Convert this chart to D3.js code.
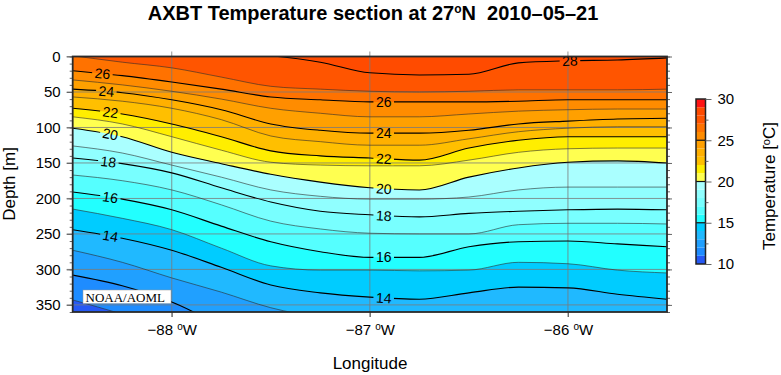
<!DOCTYPE html>
<html>
<head>
<meta charset="utf-8">
<script src="https://cdn.jsdelivr.net/npm/d3@7"></script>
<style>
  body { margin: 0; background: #fff; }
  svg { display: block; font-family: "Liberation Sans", Arial, Helvetica, sans-serif; }
</style>
</head>
<body>
<div id="chart"></div>
<script>
// Size and plot box
const width = 781;
const height = 375;
const plot = { left: 72.7, right: 667, top: 56.5, bottom: 312 };

// Longitudes where isotherm depths were read (deg E)
const longitudes = [-88.5, -88.25, -88, -87.75, -87.5, -87.25, -87, -86.75, -86.5, -86.25, -86, -85.75, -85.5];

// Depth (m) of each isotherm at those longitudes
const iso11 = [343, 363, 385, 414, 442, 455, 462, 462, 462, 455, 455, 462, 470];
const iso12 = [308, 323, 346, 378, 400, 410, 416, 419, 416, 410, 410, 416, 421];
const iso13 = [273, 290, 312, 332, 354, 368, 378, 383, 378, 371, 371, 378, 385];
const iso14 = [244, 256, 273, 297, 322, 333, 339, 342, 333, 325, 326, 335, 342];
const iso15 = [215, 228, 244, 270, 295, 301, 301, 302, 301, 290, 292, 301, 305];
const iso16 = [191, 201, 216, 239, 261, 275, 283, 283, 268, 261, 260, 264, 268];
const iso17 = [167, 175, 188, 209, 232, 243, 249, 250, 250, 237, 235, 235, 236];
const iso18 = [143, 151, 164, 185, 205, 218, 223, 226, 221, 218, 216, 215, 216];
const iso19 = [126, 136, 153, 170, 188, 197, 201, 201, 198, 188, 184, 184, 184];
const iso20 = [101, 113, 135, 151, 166, 177, 185, 188, 170, 157, 149, 147, 150];
const iso21 = [85, 95, 113, 132, 149, 153, 154, 154, 146, 135, 130, 129, 129];
const iso22 = [73, 81, 95, 113, 133, 140, 143, 146, 129, 118, 113, 113, 113];
const iso23 = [57, 63, 73, 89, 112, 120, 125, 125, 116, 106, 101, 99, 99];
const iso24 = [46, 51, 61, 75, 95, 104, 108, 108, 104, 95, 91, 88, 87];
const iso25 = [33, 40, 49, 60, 73, 80, 85, 85, 81, 77, 75, 74, 74];
const iso26 = [20, 27, 36, 46, 57, 61, 64, 64, 64, 63, 61, 61, 61];
const iso27 = [-1, 8, 16, 29, 42, 46, 49, 50, 49, 47, 47, 47, 46];
const iso28 = [-20, -16, -12, -6, -1, 8, 23, 26, 25, 9, 6, 5, 2];

const levels = [11, 12, 13, 14, 15, 16, 17, 18, 19, 20, 21, 22, 23, 24, 25, 26, 27, 28];
const isotherms = [iso11, iso12, iso13, iso14, iso15, iso16, iso17, iso18, iso19,
                   iso20, iso21, iso22, iso23, iso24, iso25, iso26, iso27, iso28];

// One colour per 1 degC band, 10-11 ... 29-30
const bandColors = ["#2659f5", "#1e8cff", "#20a0ff", "#20b9ff", "#00ccff",
                    "#22ffff", "#55ffff", "#78ffff", "#90ffff", "#aaffff",
                    "#ffff50", "#ffee00", "#ffbf00", "#ffb000", "#ffa000",
                    "#ff8c00", "#ff7200", "#ff5500", "#ff4b00", "#ff1414"];

// Contour labels: isotherm and longitude of the label
const labelTemps = [26, 24, 22, 20, 18, 16, 14, 26, 24, 22, 20, 18, 16, 14, 28];
const labelLons = [-88.35, -88.33, -88.31, -88.31, -88.32, -88.31, -88.31,
                   -86.93, -86.93, -86.93, -86.93, -86.93, -86.93, -86.93, -85.99];

// Ticks
const depthTicks = [0, 50, 100, 150, 200, 250, 300, 350];
const depthMinor = d3.range(0, 361, 10);
const lonTicks = [-88, -87, -86];
const colorTicks = [10, 15, 20, 25, 30];
const colorMinor = [12.5, 17.5, 22.5, 27.5];

const x = d3.scaleLinear().domain([-88.5, -85.5]).range([plot.left, plot.right]);
const y = d3.scaleLinear().domain([0, 360]).range([plot.top, plot.bottom]);
const cy = d3.scaleLinear().domain([10, 30]).range([264, 99]);

const svg = d3.select("#chart").append("svg")
    .attr("width", width)
    .attr("height", height);

const defs = svg.append("defs");
defs.append("clipPath").attr("id", "plotclip")
  .append("rect")
    .attr("x", plot.left).attr("y", plot.top)
    .attr("width", plot.right - plot.left).attr("height", plot.bottom - plot.top);

// Filled bands, painted from cold to warm
const fills = svg.append("g").attr("clip-path", "url(#plotclip)");
fills.append("rect")
    .attr("x", plot.left).attr("y", plot.top)
    .attr("width", plot.right - plot.left).attr("height", plot.bottom - plot.top)
    .attr("fill", bandColors[0]);

const area = d3.area()
    .x((d, i) => x(longitudes[i]))
    .y0(y(-60))
    .y1(d => y(d))
    .curve(d3.curveMonotoneX);

levels.forEach((t, k) => {
    fills.append("path")
        .attr("d", area(isotherms[k]))
        .attr("fill", bandColors[t - 10]);
});

// Grid lines
const grid = svg.append("g").attr("stroke", "#7a7a7a").attr("stroke-width", 0.8);
lonTicks.forEach(v => {
    grid.append("line")
        .attr("x1", x(v)).attr("x2", x(v))
        .attr("y1", plot.top - 5).attr("y2", plot.bottom + 5);
});
depthTicks.forEach(v => {
    grid.append("line")
        .attr("x1", plot.left - 6).attr("x2", plot.right)
        .attr("y1", y(v)).attr("y2", y(v));
});

// Contour lines
const line = d3.line()
    .x((d, i) => x(longitudes[i]))
    .y(d => y(d))
    .curve(d3.curveMonotoneX);

const mask = defs.append("mask").attr("id", "gaps")
    .attr("maskUnits", "userSpaceOnUse")
    .attr("x", 0).attr("y", 0).attr("width", width).attr("height", height);
mask.append("rect").attr("width", width).attr("height", height).attr("fill", "#fff");

const lineClip = svg.append("g").attr("clip-path", "url(#plotclip)");
const lines = lineClip.append("g").attr("mask", "url(#gaps)");
const paths = {};
levels.forEach((t, k) => {
    paths[t] = lines.append("path")
        .attr("d", line(isotherms[k]))
        .attr("fill", "none")
        .attr("stroke", t % 2 === 0 ? "#000" : "#2b2b2b")
        .attr("stroke-width", t % 2 === 0 ? 1.1 : 0.6);
});

// find point on a path at a given screen x
function pointAtX(node, px) {
    const L = node.getTotalLength();
    let lo = 0, hi = L;
    for (let i = 0; i < 40; i++) {
        const mid = (lo + hi) / 2;
        if (node.getPointAtLength(mid).x < px) lo = mid; else hi = mid;
    }
    const p = node.getPointAtLength(lo);
    const a = node.getPointAtLength(Math.max(0, lo - 4));
    const b = node.getPointAtLength(Math.min(L, lo + 4));
    return { x: p.x, y: p.y, angle: Math.atan2(b.y - a.y, b.x - a.x) * 180 / Math.PI };
}

const labels = svg.append("g")
    .attr("font-size", "14px")
    .attr("fill", "#000");
labelTemps.forEach((t, i) => {
    const p = pointAtX(paths[t].node(), x(labelLons[i]));
    const tf = `translate(${p.x},${p.y}) rotate(${p.angle})`;
    const txt = labels.append("text")
        .attr("transform", tf)
        .attr("text-anchor", "middle")
        .attr("dy", "0.36em")
        .text(t);
    const w = txt.node().getComputedTextLength() + 5;
    mask.append("rect")
        .attr("transform", tf)
        .attr("x", -w / 2).attr("y", -6)
        .attr("width", w).attr("height", 12)
        .attr("fill", "#000");
});

// NOAA/AOML stamp
svg.append("rect")
    .attr("x", 83).attr("y", 290).attr("width", 88).attr("height", 13.5)
    .attr("fill", "#fff").attr("stroke", "#999").attr("stroke-width", 0.5);
svg.append("text")
    .attr("x", 85.5).attr("y", 301.5)
    .attr("font-family", "'Liberation Serif', 'Times New Roman', serif")
    .attr("font-size", "13px")
    .text("NOAA/AOML");

// Axes
function styleAxis(g) {
    g.select(".domain").remove();
    g.selectAll(".tick line").attr("stroke", "#666");
    g.selectAll(".tick text").attr("fill", "#000").attr("font-family", null);
}

svg.append("g")
    .attr("transform", `translate(${plot.left},0)`)
    .call(d3.axisLeft(y).tickValues(depthMinor).tickSize(3).tickFormat(""))
    .call(styleAxis);
svg.append("g")
    .attr("transform", `translate(${plot.left},0)`)
    .call(d3.axisLeft(y).tickValues(depthTicks).tickSize(6).tickPadding(6))
    .call(styleAxis)
    .call(g => g.selectAll(".tick text").attr("font-size", "15px"));
svg.append("g")
    .attr("transform", `translate(${plot.right},0)`)
    .call(d3.axisRight(y).tickValues(depthMinor).tickSize(3).tickFormat(""))
    .call(styleAxis);
svg.append("g")
    .attr("transform", `translate(${plot.right},0)`)
    .call(d3.axisRight(y).tickValues(depthTicks).tickSize(5).tickFormat(""))
    .call(styleAxis);

const xAxis = svg.append("g")
    .attr("transform", `translate(0,${plot.bottom})`)
    .call(d3.axisBottom(x).tickValues(lonTicks).tickSize(5).tickPadding(7).tickFormat(""))
    .call(styleAxis);
xAxis.selectAll(".tick text").each(function (d) {
    const t = d3.select(this).attr("font-size", "15px");
    t.append("tspan").text(d3.format("d")(d) + " ");
    t.append("tspan").attr("font-size", "10px").attr("dy", "-5").text("o");
    t.append("tspan").attr("dy", "5").text("W");
});

// Frame
svg.append("rect")
    .attr("x", plot.left).attr("y", plot.top)
    .attr("width", plot.right - plot.left).attr("height", plot.bottom - plot.top)
    .attr("fill", "none").attr("stroke", "#2a2a2a").attr("stroke-width", 1.8);

// Titles
const title = svg.append("text")
    .attr("x", 373).attr("y", 20)
    .attr("text-anchor", "middle")
    .attr("font-weight", "bold")
    .attr("font-size", "20px");
title.append("tspan").text("AXBT Temperature section at 27");
title.append("tspan").attr("font-size", "12px").attr("dy", "-7").text("o");
title.append("tspan").attr("dy", "7").text("N\u00a0\u00a02010\u201305\u201321");

svg.append("text")
    .attr("x", 370).attr("y", 369)
    .attr("text-anchor", "middle")
    .attr("font-size", "17px")
    .text("Longitude");

svg.append("text")
    .attr("transform", "translate(15,184) rotate(-90)")
    .attr("text-anchor", "middle")
    .attr("font-size", "17px")
    .text("Depth [m]");

// Colour bar
const cbar = svg.append("g");
const cbX = 696, cbW = 9.5;
bandColors.forEach((c, i) => {
    cbar.append("rect")
        .attr("x", cbX).attr("y", cy(11 + i))
        .attr("width", cbW).attr("height", cy(10 + i) - cy(11 + i))
        .attr("fill", c);
});
[15, 20, 25].forEach(v => {
    cbar.append("line")
        .attr("x1", cbX).attr("x2", cbX + cbW)
        .attr("y1", cy(v)).attr("y2", cy(v))
        .attr("stroke", "#111").attr("stroke-width", 1.2);
});
cbar.append("rect")
    .attr("x", cbX).attr("y", cy(30))
    .attr("width", cbW).attr("height", cy(10) - cy(30))
    .attr("fill", "none").attr("stroke", "#222").attr("stroke-width", 1.5);

svg.append("g")
    .attr("transform", `translate(${cbX + cbW},0)`)
    .call(d3.axisRight(cy).tickValues(colorMinor).tickSize(3).tickFormat(""))
    .call(styleAxis);
svg.append("g")
    .attr("transform", `translate(${cbX + cbW},0)`)
    .call(d3.axisRight(cy).tickValues(colorTicks).tickSize(6).tickPadding(6))
    .call(styleAxis)
    .call(g => g.selectAll(".tick text").attr("font-size", "15px"));

const ctitle = svg.append("text")
    .attr("transform", "translate(775,186) rotate(-90)")
    .attr("text-anchor", "middle")
    .attr("font-size", "17px");
ctitle.append("tspan").text("Temperature [");
ctitle.append("tspan").attr("font-size", "11px").attr("dy", "-5").text("o");
ctitle.append("tspan").attr("dy", "5").text("C]");
</script>
</body>
</html>
